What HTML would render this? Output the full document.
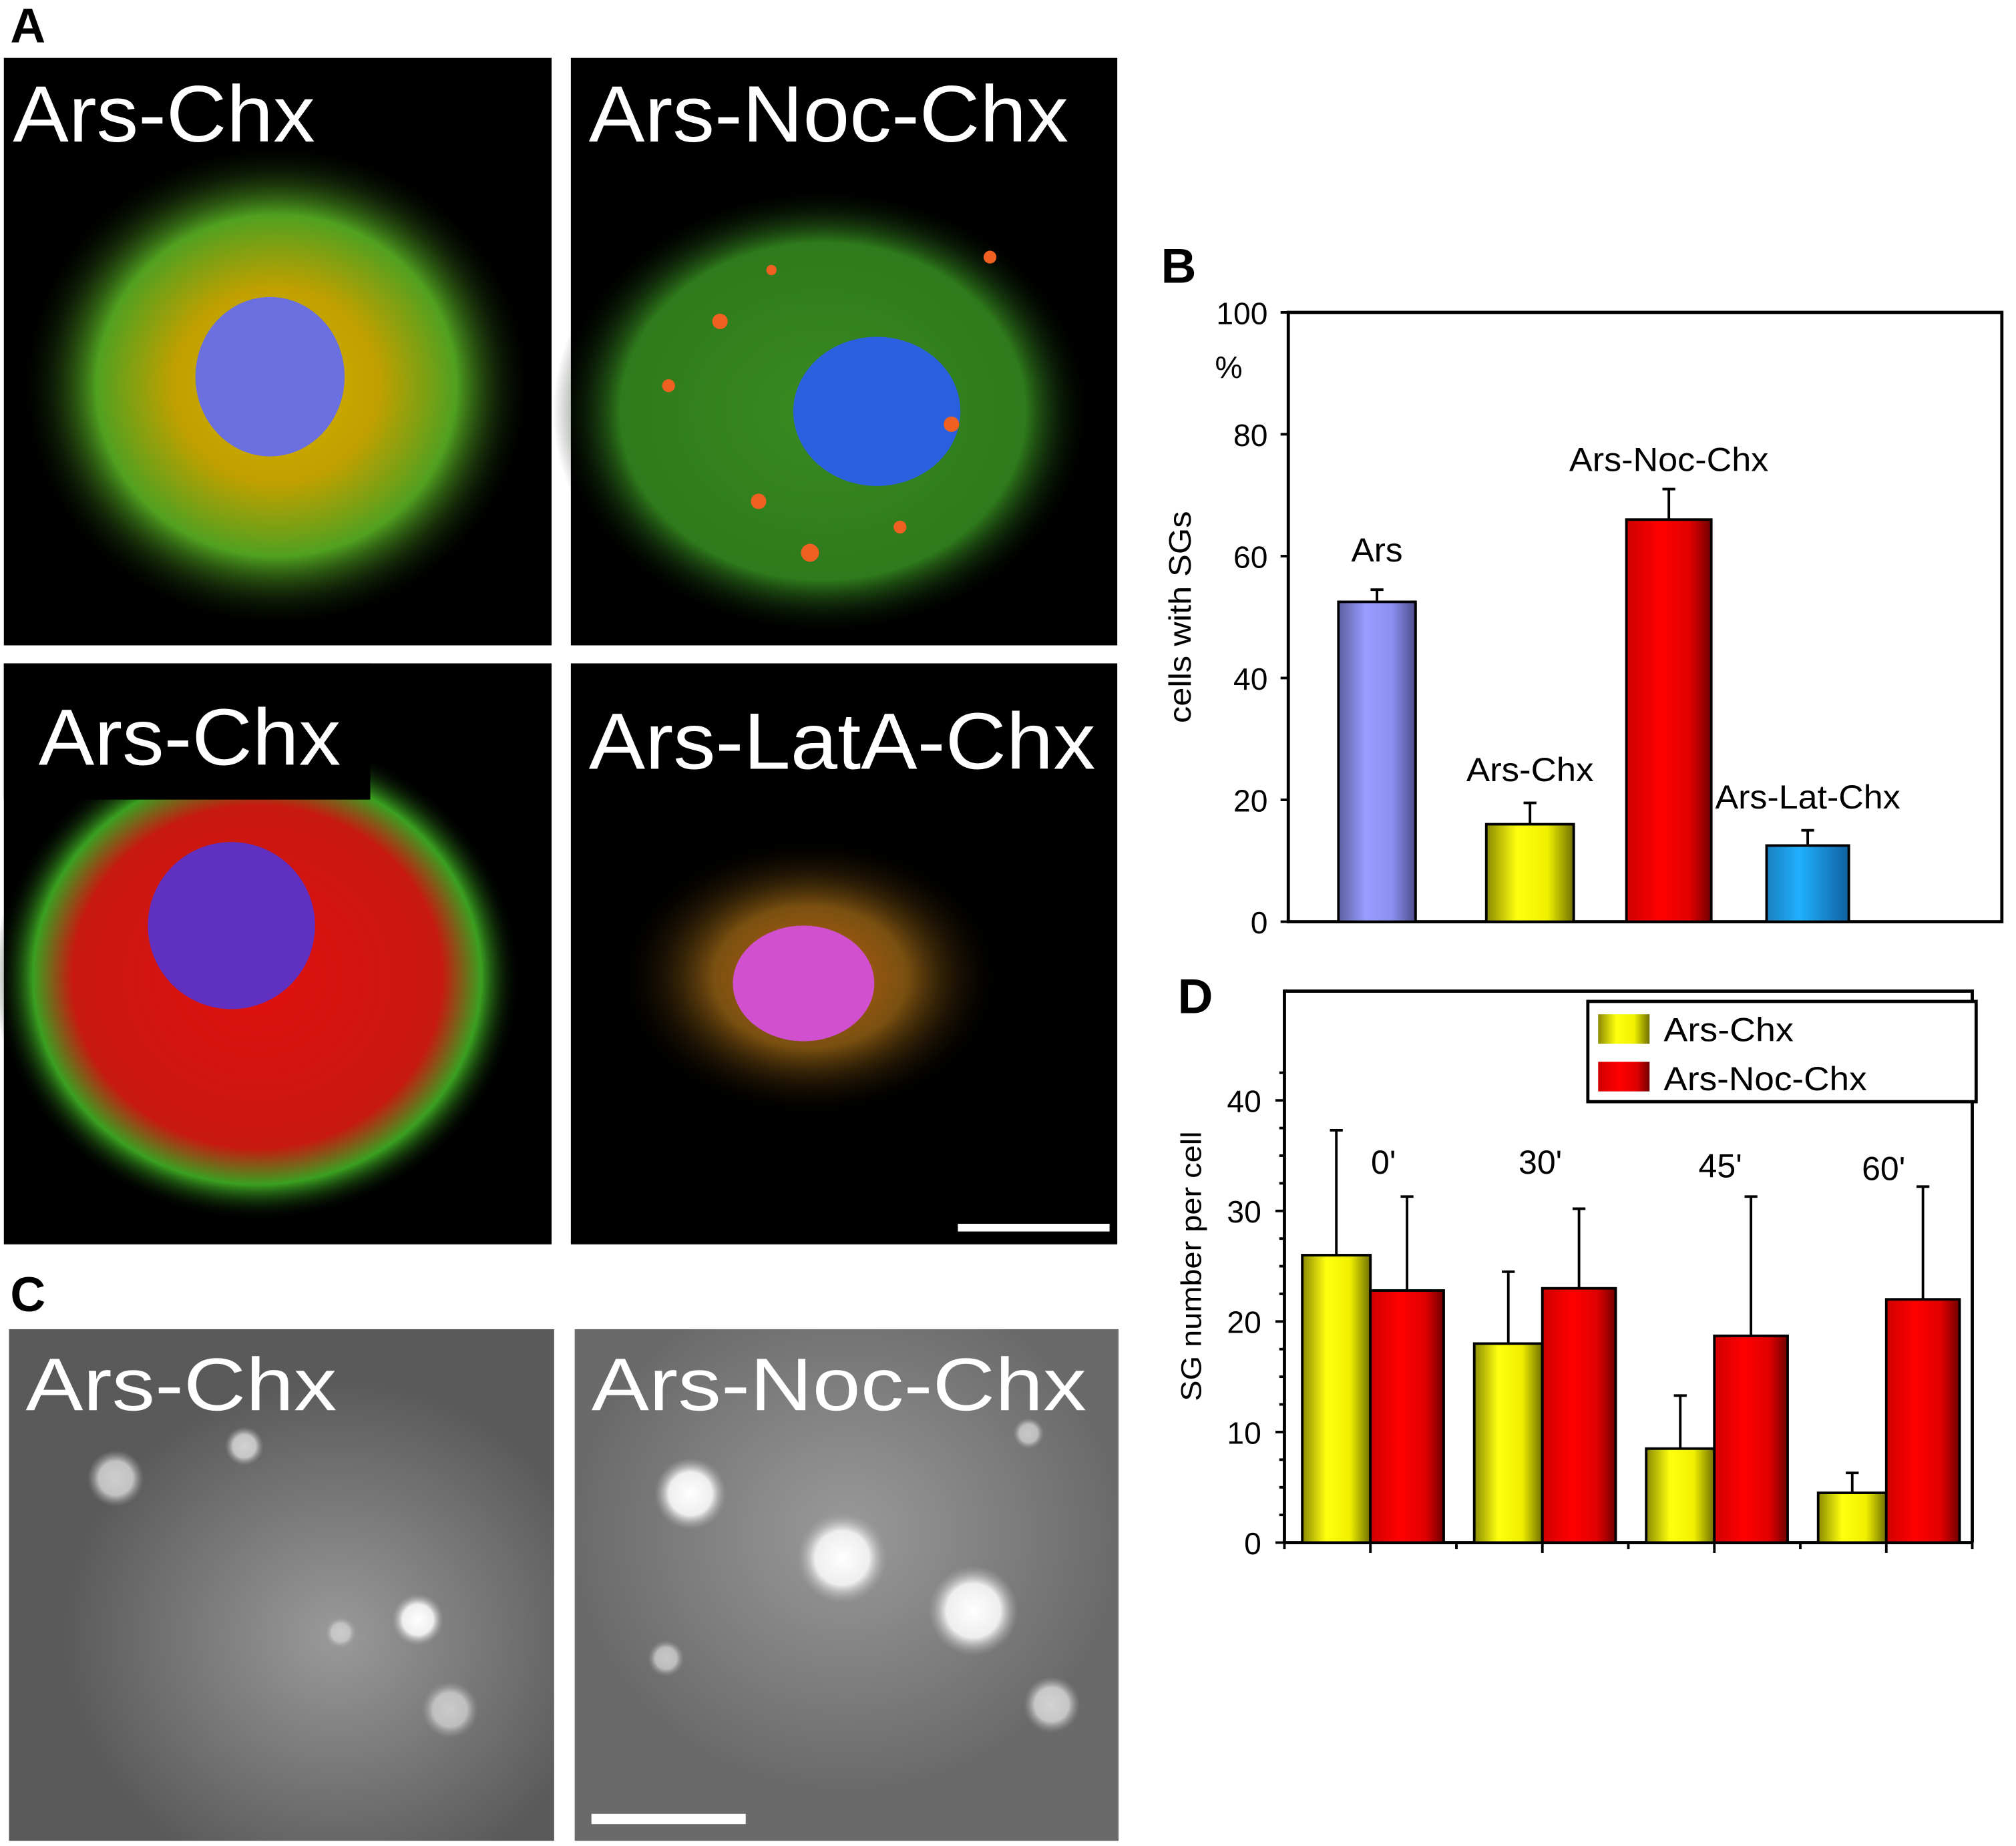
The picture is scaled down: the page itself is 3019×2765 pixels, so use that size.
<!DOCTYPE html>
<html><head><meta charset="utf-8"><style>
html,body{margin:0;padding:0;background:#fff}
svg{display:block;font-family:"Liberation Sans",Arial,sans-serif}
</style></head><body>
<svg id="fig" width="3019" height="2765" viewBox="0 0 1568 1436" xmlns="http://www.w3.org/2000/svg">
<defs>
<linearGradient id="gBlue" x1="0" x2="1"><stop offset="0" stop-color="#5a5fa0"/><stop offset="0.35" stop-color="#9a9cff"/><stop offset="0.7" stop-color="#8c8ff0"/><stop offset="1" stop-color="#4a4c88"/></linearGradient>
<linearGradient id="gYel" x1="0" x2="1"><stop offset="0" stop-color="#8a8a00"/><stop offset="0.35" stop-color="#ffff10"/><stop offset="0.7" stop-color="#f0f000"/><stop offset="1" stop-color="#707000"/></linearGradient>
<linearGradient id="gRed" x1="0" x2="1"><stop offset="0" stop-color="#d00000"/><stop offset="0.4" stop-color="#ff0000"/><stop offset="0.75" stop-color="#e00000"/><stop offset="1" stop-color="#700000"/></linearGradient>
<linearGradient id="gCyan" x1="0" x2="1"><stop offset="0" stop-color="#1a80c0"/><stop offset="0.4" stop-color="#20b0ff"/><stop offset="1" stop-color="#1060a0"/></linearGradient>
<radialGradient id="cell1"><stop offset="0" stop-color="#d8b000"/><stop offset="0.4" stop-color="#c0a000"/><stop offset="0.7" stop-color="#50a020"/><stop offset="1" stop-color="#000" stop-opacity="0"/></radialGradient>
<radialGradient id="cell2"><stop offset="0" stop-color="#3a8a20"/><stop offset="0.75" stop-color="#2f7a1c"/><stop offset="1" stop-color="#000" stop-opacity="0"/></radialGradient>
<radialGradient id="cell3"><stop offset="0" stop-color="#e01010"/><stop offset="0.7" stop-color="#c81810"/><stop offset="0.85" stop-color="#3aa020"/><stop offset="1" stop-color="#000" stop-opacity="0"/></radialGradient>
<radialGradient id="cell4"><stop offset="0" stop-color="#c06010"/><stop offset="0.5" stop-color="#7a5010"/><stop offset="1" stop-color="#000" stop-opacity="0"/></radialGradient>
<radialGradient id="blob"><stop offset="0" stop-color="#fff"/><stop offset="0.6" stop-color="#eee"/><stop offset="1" stop-color="#aaa" stop-opacity="0"/></radialGradient>
<radialGradient id="grayBg1" cx="0.6" cy="0.6"><stop offset="0" stop-color="#9a9a9a"/><stop offset="1" stop-color="#5a5a5a"/></radialGradient>
<radialGradient id="grayBg2" cx="0.5" cy="0.4"><stop offset="0" stop-color="#9a9a9a"/><stop offset="1" stop-color="#6a6a6a"/></radialGradient>
</defs>

<text x="8" y="33" font-size="38" font-weight="bold">A</text>
<g>
<rect x="3" y="45" width="426" height="457" fill="#000"/>
<ellipse cx="215" cy="300" rx="200" ry="190" fill="url(#cell1)"/>
<ellipse cx="210" cy="293" rx="58" ry="62" fill="#6a70e0"/>
<text x="10" y="110" font-size="62" fill="#fff" textLength="235" lengthAdjust="spacingAndGlyphs">Ars-Chx</text>
</g>
<g>
<rect x="444" y="45" width="425" height="457" fill="#000"/>
<ellipse cx="640" cy="320" rx="210" ry="175" fill="url(#cell2)"/>
<ellipse cx="682" cy="320" rx="65" ry="58" fill="#2a60e0"/>
<g fill="#f06020"><circle cx="560" cy="250" r="6"/><circle cx="630" cy="430" r="7"/><circle cx="740" cy="330" r="6"/><circle cx="590" cy="390" r="6"/><circle cx="770" cy="200" r="5"/><circle cx="520" cy="300" r="5"/><circle cx="700" cy="410" r="5"/><circle cx="600" cy="210" r="4"/></g>
<text x="458" y="110" font-size="62" fill="#fff" textLength="373" lengthAdjust="spacingAndGlyphs">Ars-Noc-Chx</text>
</g>
<g>
<rect x="3" y="516" width="426" height="452" fill="#000"/>
<ellipse cx="200" cy="760" rx="205" ry="190" fill="url(#cell3)"/>
<ellipse cx="180" cy="720" rx="65" ry="65" fill="#6030c0"/>
<rect x="3" y="516" width="285" height="106" fill="#000"/>
<text x="30" y="595" font-size="62" fill="#fff" textLength="235" lengthAdjust="spacingAndGlyphs">Ars-Chx</text>
</g>
<g>
<rect x="444" y="516" width="425" height="452" fill="#000"/>
<ellipse cx="630" cy="760" rx="150" ry="110" fill="url(#cell4)"/>
<ellipse cx="625" cy="765" rx="55" ry="45" fill="#d050d0"/>
<text x="458" y="598" font-size="62" fill="#fff" textLength="394" lengthAdjust="spacingAndGlyphs">Ars-LatA-Chx</text>
<rect x="745" y="952" width="118" height="6" fill="#fff"/>
</g>

<text x="8" y="1020" font-size="38" font-weight="bold">C</text>
<g>
<rect x="7" y="1034" width="424" height="398" fill="url(#grayBg1)"/>
<circle cx="90" cy="1150" r="22" fill="url(#blob)" opacity="0.7"/><circle cx="190" cy="1125" r="15" fill="url(#blob)" opacity="0.7"/>
<circle cx="325" cy="1260" r="20" fill="url(#blob)"/><circle cx="350" cy="1330" r="22" fill="url(#blob)" opacity="0.6"/><circle cx="265" cy="1270" r="12" fill="url(#blob)" opacity="0.5"/>
<text x="20" y="1097" font-size="58" fill="#fff" textLength="242" lengthAdjust="spacingAndGlyphs">Ars-Chx</text>
</g>
<g>
<rect x="447" y="1034" width="423" height="398" fill="url(#grayBg2)"/>
<circle cx="537" cy="1162" r="28" fill="url(#blob)"/><circle cx="655" cy="1212" r="35" fill="url(#blob)"/><circle cx="757" cy="1253" r="35" fill="url(#blob)"/>
<circle cx="818" cy="1326" r="22" fill="url(#blob)" opacity="0.7"/><circle cx="518" cy="1290" r="14" fill="url(#blob)" opacity="0.6"/><circle cx="800" cy="1115" r="12" fill="url(#blob)" opacity="0.6"/>
<text x="460" y="1097" font-size="58" fill="#fff" textLength="385" lengthAdjust="spacingAndGlyphs">Ars-Noc-Chx</text>
<rect x="460" y="1411" width="120" height="8" fill="#fff"/>
</g>

<text x="903" y="220" font-size="38" font-weight="bold">B</text>
<g id="chartB"></g>
<text x="916" y="788" font-size="38" font-weight="bold">D</text>
<g id="chartD"></g>
</svg>
<script>
const NS="http://www.w3.org/2000/svg";
// Chart B data
const bCategories=["Ars","Ars-Chx","Ars-Noc-Chx","Ars-Lat-Chx"];
const bValues=[52.5,16,66,12.5];
const bErrors=[2,3.5,5,2.5];
const bTicks=[0,20,40,60,80,100];
// Chart D data
const dGroups=["0'","30'","45'","60'"];
const dArsChx=[26,18,8.5,4.5];
const dArsChxErr=[11.3,6.5,4.8,1.8];
const dArsNocChx=[22.8,23,18.7,22];
const dArsNocChxErr=[8.5,7.2,12.6,10.2];
const dTicks=[0,10,20,30,40];
const dSeries=["Ars-Chx","Ars-Noc-Chx"];

function mk(parent,tag,attrs,text){const e=document.createElementNS(NS,tag);for(const k in attrs)e.setAttribute(k,attrs[k]);if(text!==undefined)e.textContent=text;parent.appendChild(e);return e;}

(function(){
const g=document.getElementById('chartB');
const L=1002,R=1557,T=243,B=717;
const y=v=>B-(v/100)*(B-T);
const bx=[1041,1156,1265,1374], bw=[60,68,66,64];
const fills=["url(#gBlue)","url(#gYel)","url(#gRed)","url(#gCyan)"];
const labOff=[22,17,14,17], labW=[40,99,155,144];
const frame=mk(g,'rect',{x:L,y:T,width:R-L,height:B-T,fill:'none',stroke:'#000','stroke-width':2.5});


bTicks.forEach(t=>{
 const tk=mk(g,'line',{x1:L-6,x2:L,y1:y(t),y2:y(t),stroke:'#000','stroke-width':2});
 
 
 const tl=mk(g,'text',{x:L-16,y:y(t)+9,'font-size':24,'text-anchor':'end'},String(t));
 
 
});
const pct=mk(g,'text',{x:945,y:294,'font-size':24},'%');


const yt=mk(g,'text',{x:0,y:0,'font-size':24,'text-anchor':'middle',transform:'translate(926,480) rotate(-90)',textLength:165,lengthAdjust:'spacingAndGlyphs'},'cells with SGs');


bCategories.forEach((c,i)=>{
 const cx=bx[i]+bw[i]/2;
 const eb=mk(g,'path',{d:`M${cx},${y(bValues[i])}V${y(bValues[i]+bErrors[i])}M${cx-5},${y(bValues[i]+bErrors[i])}H${cx+5}`,stroke:'#000','stroke-width':2,fill:'none'});
 
 
 const r=mk(g,'rect',{x:bx[i],y:y(bValues[i]),width:bw[i],height:B-y(bValues[i]),fill:fills[i],stroke:'#000','stroke-width':2});
 
 
 const lb=mk(g,'text',{x:cx,y:y(bValues[i]+bErrors[i])-labOff[i],'font-size':26,'text-anchor':'middle',textLength:labW[i],lengthAdjust:'spacingAndGlyphs'},c);
 
 
});
})();

(function(){
const g=document.getElementById('chartD');
const L=999,R=1534,T=771,B=1200;
const y=v=>B-v*(B-856)/40;
const groupW=(R-L)/4;
const frame=mk(g,'path',{d:`M${L},${B}V${T}H${R}V${B}`,fill:'none',stroke:'#000','stroke-width':2.5});


const xa=mk(g,'line',{x1:L,x2:R,y1:B,y2:B,stroke:'#000','stroke-width':2.5});


for(let k=0;k<=8;k++){
 const xx=L+k*groupW/2;
 const t=mk(g,'line',{x1:xx,x2:xx,y1:B,y2:B+(k%2?8:5),stroke:'#000','stroke-width':2});
 
 
}
for(let v=0;v<=42.5;v+=2.5){
 const major=v%10===0;
 const t=mk(g,'line',{x1:L-(major?7:4),x2:L,y1:y(v),y2:y(v),stroke:'#000','stroke-width':2});
 
 
}
dTicks.forEach(t=>{
 const tl=mk(g,'text',{x:L-18,y:y(t)+9,'font-size':24,'text-anchor':'end'},String(t));
 
 
});
const yt=mk(g,'text',{x:0,y:0,'font-size':22,'text-anchor':'middle',transform:'translate(934,985) rotate(-90)',textLength:210,lengthAdjust:'spacingAndGlyphs'},'SG number per cell');


const labY=[913,913,916,918], labX=[1076,1198,1338,1465];
dGroups.forEach((gname,i)=>{
 const mid=L+groupW*i+groupW/2;
 const series=[[dArsChx,dArsChxErr,'url(#gYel)',mid-53,53],[dArsNocChx,dArsNocChxErr,'url(#gRed)',mid,57]];
 series.forEach((s,j)=>{
  const v=s[0][i],e=s[1][i],x0=s[3],w=s[4],cx=x0+w/2;
  const eb=mk(g,'path',{d:`M${cx},${y(v)}V${y(v+e)}M${cx-5},${y(v+e)}H${cx+5}`,stroke:'#000','stroke-width':2,fill:'none'});
  
  
  const r=mk(g,'rect',{x:x0,y:y(v),width:w,height:B-y(v),fill:s[2],stroke:'#000','stroke-width':2});
  
  
 });
 const gl=mk(g,'text',{x:labX[i],y:labY[i],'font-size':26,'text-anchor':'middle'},gname);
 
 
});
const lg=mk(g,'g',{});


mk(lg,'rect',{x:1235,y:779,width:302,height:78,fill:'#fff',stroke:'#000','stroke-width':2.5});
const sw=['url(#gYel)','url(#gRed)'];
const lw=[101,158];
dSeries.forEach((s,j)=>{
 const e=mk(lg,'rect',{x:1243,y:789+j*37,width:40,height:23,fill:sw[j]});
 
 
 const t=mk(lg,'text',{x:1294,y:810+j*38,'font-size':26,textLength:lw[j],lengthAdjust:'spacingAndGlyphs'},s);
 
 
});
})();
</script>
</body></html>
